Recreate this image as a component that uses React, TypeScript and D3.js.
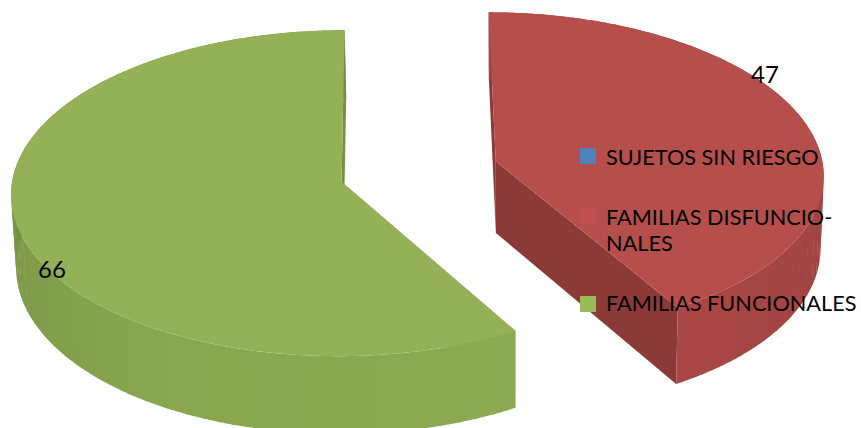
import React from "react";
import * as d3 from "d3";

const categories = ["SUJETOS SIN RIESGO", "FAMILIAS DISFUNCIONALES", "FAMILIAS FUNCIONALES"];
const values = [0, 47, 66];
const swatchColors = ["#4F81BD", "#C0504D", "#9BBB59"];
const topColors = ["#4F81BD", "#B64F4C", "#95B158"];
const legendLines = [["SUJETOS SIN RIESGO"], ["FAMILIAS DISFUNCIO-", "NALES"], ["FAMILIAS FUNCIONALES"]];
const legendBaselines = [165, 225, 311];
const legendSwatchTops = [148, 208, 296];
const labelAnchors: [number, number][] = [[0, 0], [765, 83], [52, 278]];

const W = 861;
const H = 428;
const R = 328;
const EXPLODE = 80;
const FOCAL = 4700;
const TILT = 0.49;
const VX = 387;
const VY = 171.5;
const CENTER_X = 32;
const DEPTH = 72;
const FONT = "Lato, Carlito, sans-serif";

type Pt = [number, number];

// Perspective projection of a ground-plane point; `low` selects the underside of the disc.
function project(wx: number, wy: number, low: boolean): Pt {
  const s = FOCAL / (FOCAL - wy);
  const x = VX + wx * s;
  const y = VY + TILT * wy * s;
  if (!low) return [x, y];
  return [510 + (x - 510) * 0.99, y + DEPTH * s];
}

function sliceProjector(mid: number) {
  const ox = CENTER_X + EXPLODE * Math.sin(mid);
  const oy = -EXPLODE * Math.cos(mid);
  return {
    rim: (a: number, low = false) => project(ox + R * Math.sin(a), oy - R * Math.cos(a), low),
    hub: (low = false) => project(ox, oy, low),
  };
}

const polygon = d3.line<Pt>();
const pie = d3.pie<number>().sort(null).startAngle(0).endAngle(2 * Math.PI);

export default function App() {
  const arcs = pie(values);
  const wallShade = d3.scaleLinear<string>();

  return (
    <svg
      width={W}
      height={H}
      viewBox={`0 0 ${W} ${H}`}
      style={{ position: "absolute", left: 0, top: 0, background: "#fff" }}
    >
      {arcs.map((d, i) => {
        if (d.value === 0) return null;
        const mid = (d.startAngle + d.endAngle) / 2;
        const p = sliceProjector(mid);
        const angles = d3.range(d.startAngle, d.endAngle, 0.005).concat(d.endAngle);
        const topPath = [p.hub(), ...angles.map((a) => p.rim(a))];
        const isRed = i === 1;

        // Outer wall is cut into narrow facets, which gives it a soft banded shading.
        const facetStep = 0.07;
        const facets = d3.range(d.startAngle, d.endAngle, facetStep);
        const shade = wallShade
          .copy()
          .domain(isRed ? [Math.PI / 2, d.endAngle] : [d.startAngle, 3.6, 4.4, 4.8])
          .range(isRed ? ["#A04341", "#A94745"] : ["#8DAA52", "#89A650", "#7F9B4A", "#748F44"])
          .clamp(true);

        return (
          <g key={categories[i]}>
            {/* cut face along the slice's first edge */}
            <path
              d={polygon([p.hub(), p.rim(d.startAngle), p.rim(d.startAngle, true), p.hub(true)]) + "Z"}
              fill={isRed ? "#8C3A38" : "#8BA851"}
            />
            {/* cut face along the slice's last edge */}
            <path
              d={polygon([p.hub(), p.rim(d.endAngle), p.rim(d.endAngle, true), p.hub(true)]) + "Z"}
              fill={isRed ? "#8C3A38" : "#76913F"}
            />
            {facets.map((a) => {
              const b = Math.min(a + facetStep + 0.005, d.endAngle);
              const steps = d3.range(a, b, 0.01).concat(b);
              const outline = [...steps.map((t) => p.rim(t)), ...steps.slice().reverse().map((t) => p.rim(t, true))];
              return <path key={a} d={polygon(outline) + "Z"} fill={shade(a)} />;
            })}
            <path d={polygon(topPath) + "Z"} fill={topColors[i]} />
          </g>
        );
      })}

      {arcs.map((d, i) =>
        d.value === 0 ? null : (
          <text
            key={`value-${i}`}
            x={labelAnchors[i][0]}
            y={labelAnchors[i][1]}
            textAnchor="middle"
            fontFamily={FONT}
            fontSize={24}
            fill="#000"
          >
            {d.value}
          </text>
        )
      )}

      {categories.map((c, i) => (
        <g key={`legend-${c}`}>
          <rect x={580} y={legendSwatchTops[i]} width={16} height={16} fill={swatchColors[i]} />
          {legendLines[i].map((line, j) => (
            <text
              key={line}
              x={606}
              y={legendBaselines[i] + j * 26}
              fontFamily={FONT}
              fontSize={21.7}
              fill="#000"
            >
              {line}
            </text>
          ))}
        </g>
      ))}
    </svg>
  );
}
